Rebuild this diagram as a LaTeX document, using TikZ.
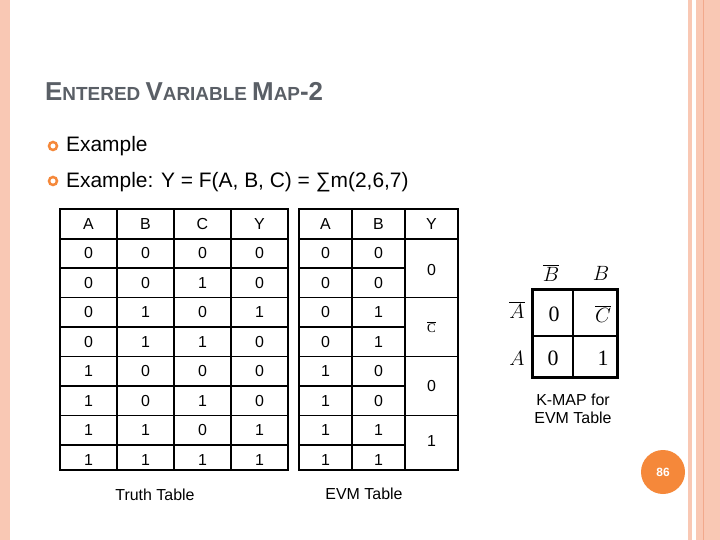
\documentclass[tikz,border=0pt]{standalone}
\usepackage{fontspec}
\setmainfont{Liberation Sans}
\newfontfamily\serifk{Liberation Serif}
\begin{document}
\begin{tikzpicture}[x=1bp,y=-1bp,
  cell/.style={font=\fontsize{16}{18}\selectfont},
  km/.style={font=\serifk\itshape\fontsize{22}{24}\selectfont},
  kv/.style={font=\serifk\fontsize{22}{24}\selectfont}]
\useasboundingbox (0,0) rectangle (720,540);
\fill[white] (0,0) rectangle (720,540);
\definecolor{pinkb}{HTML}{F9C8B4}
\definecolor{pinkd}{HTML}{F2A98C}
\definecolor{tgray}{HTML}{5A5F66}
\definecolor{orng}{HTML}{F5883A}
\fill[pinkb] (0,0) rectangle (10,540);
\fill[pinkb] (688,0) rectangle (692,540);
\fill[pinkb] (696,0) rectangle (720,540);
\draw[pinkd,line width=1bp] (703,0) -- (703,540);
% title
\node[anchor=base west,text=tgray,inner sep=0,font=\bfseries] (title) at (45,101)
 {\fontsize{26}{30}\selectfont E\fontsize{19}{24}\selectfont NTERED \fontsize{26}{30}\selectfont V\fontsize{19}{24}\selectfont ARIABLE \fontsize{26}{30}\selectfont M\fontsize{19}{24}\selectfont AP\fontsize{26}{30}\selectfont -2};
% bullets
\draw[orng,line width=2.5bp] (53,146) circle (4);
\draw[orng,line width=2.5bp] (53,181) circle (4);
\node[anchor=base west,inner sep=0,font=\fontsize{21}{24}\selectfont] (b1) at (66,152) {Example};
\node[anchor=base west,inner sep=0,font=\fontsize{21}{24}\selectfont] (b2) at (66,188) {Example: Y = F(A, B, C) = ∑m(2,6,7)};
% truth table
\draw[line width=1.5bp] (60,209) rectangle (288,470);
\foreach \x in {117,174,231} \draw[line width=1.5bp] (\x,209) -- (\x,470);
\foreach \y in {239,268,297.5,327,356.5,386,415.5,445} \draw[line width=1.5bp] (60,\y) -- (288,\y);
\foreach \t [count=\i] in {A,B,C,Y} \node[cell] (th\i) at (31.5+57*\i,224) {\t};
\foreach \r [count=\j] in {000,001,010,011,100,101,110,111}{
  \pgfmathsetmacro\yy{224+29.5*\j}
  \foreach \c [count=\i] in {0,1,2}{
    \pgfmathtruncatemacro\bit{mod(floor(\j-1)/(2^(2-\c)),2)}
    \node[cell] (t\j\i) at (31.5+57*\i,\yy) {\bit};}
}
\foreach \v [count=\j] in {0,0,1,0,0,0,1,1}
  \node[cell] (ty\j) at (259.5,224+29.5*\j) {\v};
% EVM table
\draw[line width=1.5bp] (299,209) rectangle (458,470);
\foreach \x in {352,405} \draw[line width=1.5bp] (\x,209) -- (\x,470);
\foreach \y in {239,297.5,356.5,415.5} \draw[line width=1.5bp] (299,\y) -- (458,\y);
\foreach \y in {268,327,386,445} \draw[line width=1.5bp] (299,\y) -- (405,\y);
\node[cell] (eA) at (325.5,224) {A};
\node[cell] (eB) at (378.5,224) {B};
\node[cell] (eY) at (431.5,224) {Y};
\foreach \a/\b [count=\j] in {0/0,0/0,0/1,0/1,1/0,1/0,1/1,1/1}{
  \node[cell] (ea\j) at (325.5,224+29.5*\j) {\a};
  \node[cell] (eb\j) at (378.5,224+29.5*\j) {\b};}
\node[cell] (ey1) at (431.5,270) {0};
\node[font=\serifk\fontsize{13}{14}\selectfont] (ey2) at (431.5,327) {$\overline{\mbox{C}}$};
\node[cell] (ey3) at (431.5,386) {0};
\node[cell] (ey4) at (431.5,441) {1};
\node[cell] (cap1) at (155,495) {Truth Table};
\node[cell] (cap2) at (364,494) {EVM Table};
% K-map
\draw[line width=3bp] (532,289) rectangle (617,377);
\draw[line width=2.5bp] (573,289) -- (573,377);
\draw[line width=2.5bp] (532,336) -- (617,336);
\node[km] (kb0) at (551,273) {$\overline{B}$};
\node[km] (kb1) at (601,273) {$B$};
\node[km] (ka0) at (517,310) {$\overline{A}$};
\node[km] (ka1) at (517,358) {$A$};
\node[kv] (k00) at (554,314) {0};
\node[km] (k01) at (603,314) {$\overline{C}$};
\node[kv] (k10) at (553,358) {0};
\node[kv] (k11) at (603,358) {1};
\node[cell,align=center] (kcap) at (573,409) {K-MAP for\\EVM Table};
% page number
\fill[orng] (663,472) circle (22);
\node[text=white,font=\bfseries\fontsize{12}{14}\selectfont] (pg) at (663,472) {86};
\end{tikzpicture}
\end{document}
